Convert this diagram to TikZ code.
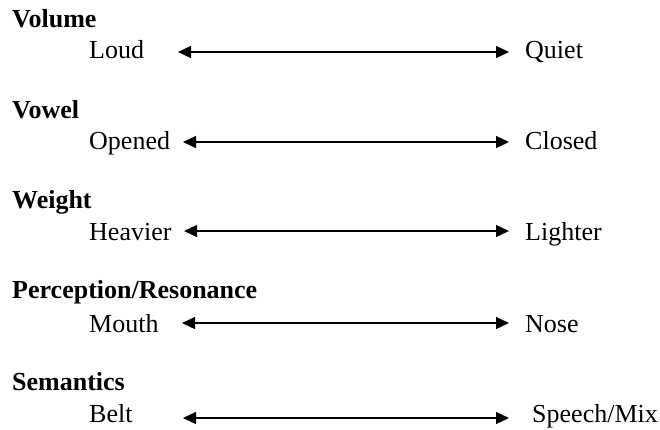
\documentclass[tikz,border=0pt]{standalone}
\usepackage{fontspec}
\setmainfont{Liberation Serif}
\usepackage{tikz}
\usetikzlibrary{positioning,arrows.meta}

\begin{document}
\begin{tikzpicture}[
  x=1pt, y=-1pt,
  heading/.style={anchor=base west, inner sep=0pt, font=\fontsize{26}{30}\selectfont\bfseries},
  pole/.style={anchor=base west, inner sep=0pt, font=\fontsize{26}{30}\selectfont},
  arrow/.style={{Triangle[length=13pt,width=12pt]}-{Triangle[length=13pt,width=12pt]}, line width=1.3pt}
]
\useasboundingbox (0,0) rectangle (660,429);

\node[heading] (volume) at (12,27) {Volume};
\node[pole] (loud) at (89,58) {Loud};
\node[pole] (quiet) at (525,58) {Quiet};
\coordinate (volL) at (178,52);
\coordinate (volR) at (509,52);
\draw[arrow] (volL) -- (volR);

\node[heading] (vowel) at (12,118) {Vowel};
\node[pole] (opened) at (89,149) {Opened};
\node[pole] (closed) at (525,149) {Closed};
\coordinate (vowL) at (183,142);
\coordinate (vowR) at (509,142);
\draw[arrow] (vowL) -- (vowR);

\node[heading] (weight) at (12,208) {Weight};
\node[pole] (heavier) at (89,240) {Heavier};
\node[pole] (lighter) at (525,240) {Lighter};
\coordinate (weiL) at (184,231);
\coordinate (weiR) at (509,231);
\draw[arrow] (weiL) -- (weiR);

\node[heading] (perception) at (12,298) {Perception/Resonance};
\node[pole] (mouth) at (89,332) {Mouth};
\node[pole] (nose) at (525,332) {Nose};
\coordinate (perL) at (182,323);
\coordinate (perR) at (509,323);
\draw[arrow] (perL) -- (perR);

\node[heading] (semantics) at (12,390) {Semantics};
\node[pole] (belt) at (89,422) {Belt};
\node[pole] (speech) at (532,422) {Speech/Mix};
\coordinate (semL) at (183,418);
\coordinate (semR) at (509,418);
\draw[arrow] (semL) -- (semR);
\end{tikzpicture}
\end{document}
